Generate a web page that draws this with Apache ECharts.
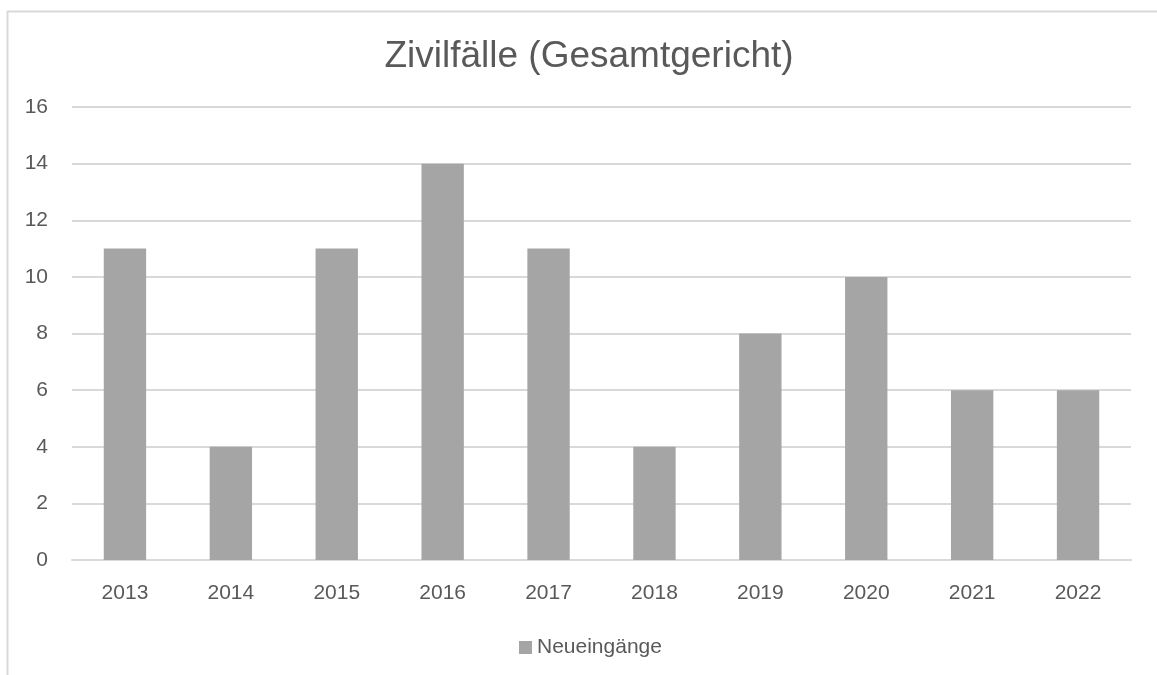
<!DOCTYPE html>
<html lang="de">
  <head>
    <meta charset="UTF-8" />
    <title>Zivilfälle (Gesamtgericht)</title>
    <style>
      html, body { margin: 0; padding: 0; background: #fff; }
      #main { width: 1157px; height: 675px; }
    </style>
  </head>
  <body>
    <div id="main"></div>
    <script src="https://cdn.jsdelivr.net/npm/echarts@6/dist/echarts.min.js"></script>
    <script>
      // Jahre und Neueingänge
      var years = ["2013", "2014", "2015", "2016", "2017", "2018", "2019", "2020", "2021", "2022"];
      var neueingaenge = [11, 4, 11, 14, 11, 4, 8, 10, 6, 6];

      var myChart = echarts.init(document.getElementById("main"));

      var font = "Liberation Sans, Arial, sans-serif";

      var option = {
        backgroundColor: "#fff",
        animation: false,
        // Rahmen links/oben wie im Original
        graphic: [
          {
            type: "rect",
            shape: { x: 7.5, y: 11.5, width: 1200, height: 700 },
            style: { fill: "none", stroke: "#d9d9d9", lineWidth: 2 },
            silent: true,
          },
        ],
        title: {
          text: "Zivilfälle (Gesamtgericht)",
          left: 584,
          textAlign: "center",
          top: 33,
          textStyle: {
            fontFamily: font,
            fontSize: 37,
            fontWeight: "normal",
            color: "#595959",
          },
        },
        legend: {
          bottom: 12,
          left: 514,
          itemWidth: 13,
          itemHeight: 13,
          itemGap: 8,
          icon: "rect",
          textStyle: { fontFamily: font, fontSize: 21, color: "#595959" },
          data: ["Neueingänge"],
        },
        grid: {
          left: 72,
          right: 26,
          top: 107,
          bottom: 115,
          containLabel: false,
        },
        xAxis: {
          type: "category",
          data: years,
          axisLine: { lineStyle: { color: "#d9d9d9", width: 2 } },
          axisTick: { show: false },
          axisLabel: {
            fontFamily: font,
            fontSize: 21,
            color: "#595959",
            margin: 23,
          },
        },
        yAxis: {
          type: "value",
          min: 0,
          max: 16,
          interval: 2,
          axisLine: { show: false },
          axisTick: { show: false },
          splitLine: { lineStyle: { color: "#d9d9d9", width: 2 } },
          axisLabel: {
            fontFamily: font,
            fontSize: 21,
            color: "#595959",
            margin: 24,
          },
        },
        series: [
          {
            name: "Neueingänge",
            type: "bar",
            data: neueingaenge,
            barWidth: "40%",
            itemStyle: { color: "#a5a5a5" },
          },
        ],
      };

      myChart.setOption(option);
    </script>
  </body>
</html>
